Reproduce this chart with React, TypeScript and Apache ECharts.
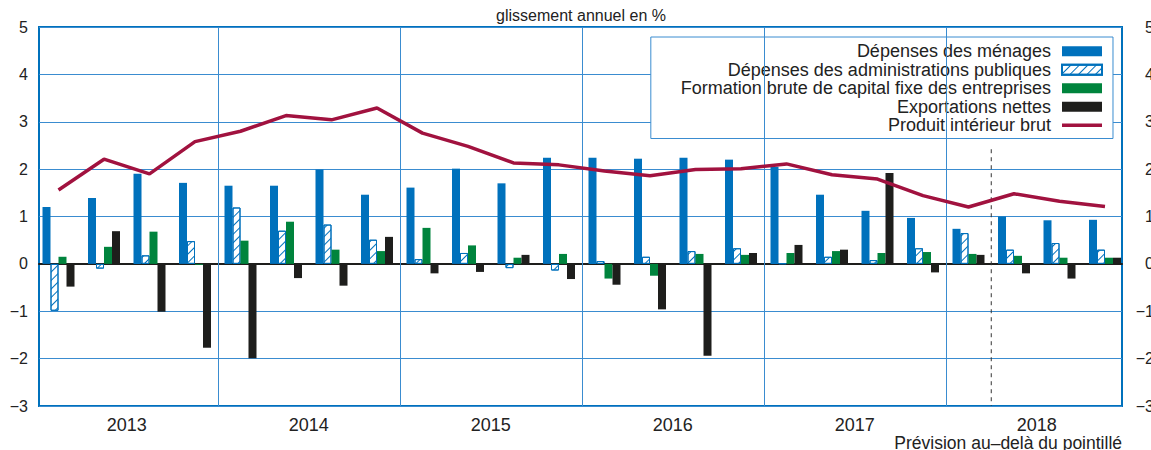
import React, { useEffect, useRef } from 'react';
import * as echarts from 'echarts';

const QUARTERS = [
  'T1 2013', 'T2 2013', 'T3 2013', 'T4 2013',
  'T1 2014', 'T2 2014', 'T3 2014', 'T4 2014',
  'T1 2015', 'T2 2015', 'T3 2015', 'T4 2015',
  'T1 2016', 'T2 2016', 'T3 2016', 'T4 2016',
  'T1 2017', 'T2 2017', 'T3 2017', 'T4 2017',
  'T1 2018', 'T2 2018', 'T3 2018', 'T4 2018',
];
const YEARS = ['2013', '2014', '2015', '2016', '2017', '2018'];

const MENAGES = [1.20, 1.39, 1.90, 1.71, 1.65, 1.65, 1.99, 1.46, 1.61, 2.01, 1.70, 2.24, 2.24, 2.22, 2.24, 2.20, 2.05, 1.46, 1.12, 0.97, 0.74, 1.00, 0.92, 0.93];
const ADMIN = [-0.99, -0.10, 0.18, 0.48, 1.19, 0.70, 0.83, 0.51, 0.10, 0.23, -0.09, -0.14, 0.06, 0.15, 0.27, 0.33, 0.01, 0.15, 0.08, 0.33, 0.65, 0.30, 0.44, 0.30];
const FBCF = [0.15, 0.36, 0.68, -0.02, 0.49, 0.89, 0.30, 0.27, 0.76, 0.39, 0.13, 0.21, -0.31, -0.25, 0.21, 0.19, 0.23, 0.27, 0.23, 0.25, 0.21, 0.17, 0.13, 0.13];
const EXPORTS = [-0.48, 0.69, -1.01, -1.77, -1.99, -0.30, -0.46, 0.57, -0.20, -0.17, 0.19, -0.32, -0.44, -0.96, -1.94, 0.23, 0.40, 0.30, 1.92, -0.18, 0.19, -0.20, -0.31, 0.13];
const PIB = [1.56, 2.21, 1.90, 2.58, 2.80, 3.13, 3.04, 3.29, 2.76, 2.48, 2.13, 2.09, 1.96, 1.86, 1.99, 2.01, 2.11, 1.88, 1.79, 1.44, 1.20, 1.48, 1.32, 1.21];

const SERIES_NAMES = [
  'Dépenses des ménages',
  'Dépenses des administrations publiques',
  'Formation brute de capital fixe des entreprises',
  'Exportations nettes',
  'Produit intérieur brut',
];
const FORECAST_START = 21; // boundary index (quarters) of the dotted line
const FORECAST_TOP = 2.42;
const Y_MIN = -3;
const Y_MAX = 5;

const FONT = "'Liberation Sans', Arial, Helvetica, sans-serif";
const BLUE = '#0071bc';
const GRID_BLUE = '#3a8cd0';
const GREEN = '#00843d';
const BLACK = '#1e1e1c';
const CRIMSON = '#a1123f';
const TEXT = '#222222';

const fmt = (v: number) => (v < 0 ? '\u2212' + Math.abs(v) : String(v));

export default function App() {
  const ref = useRef<HTMLDivElement>(null);
  useEffect(() => {
    const chart = echarts.init(ref.current!, null, { renderer: 'svg' });
    const yearBoundaries = YEARS.slice(1).map((_, i) => ({ xAxis: (i + 1) * 4 }));
    const option: any = {
      animation: false,
      backgroundColor: '#ffffff',
      textStyle: { fontFamily: FONT },
      graphic: [
        {
          type: 'text',
          x: 581,
          y: 15,
          style: {
            text: 'glissement annuel en %',
            fontSize: 16,
            fontFamily: FONT,
            fill: TEXT,
            textAlign: 'center',
            textVerticalAlign: 'middle',
          },
        },
        {
          type: 'text',
          x: 1122,
          y: 443,
          style: {
            text: 'Prévision au–delà du pointillé',
            fontSize: 17.5,
            fontFamily: FONT,
            fill: TEXT,
            textAlign: 'right',
            textVerticalAlign: 'middle',
          },
        },
      ],
      legend: {
        orient: 'vertical',
        right: 38,
        top: 37,
        align: 'right',
        itemWidth: 40,
        itemHeight: 10,
        itemGap: 0,
        padding: [5, 10, 4, 30],
        backgroundColor: '#ffffff',
        borderColor: GRID_BLUE,
        borderWidth: 1,
        selectedMode: false,
        textStyle: { fontSize: 18, fontFamily: FONT, color: TEXT, lineHeight: 18.5, padding: [0, 6, 0, 0] },
        data: [
          { name: SERIES_NAMES[0], icon: 'rect' },
          { name: SERIES_NAMES[1], icon: 'rect' },
          { name: SERIES_NAMES[2], icon: 'rect' },
          { name: SERIES_NAMES[3], icon: 'rect' },
          { name: SERIES_NAMES[4], icon: 'path://M0,0H40V3.5H0Z' },
        ],
      },
      grid: [
        { left: 39, right: 29, top: 27, bottom: 44, outerBoundsMode: 'none', containLabel: false, show: true, borderColor: BLUE, borderWidth: 2, backgroundColor: 'transparent' },
        { left: 35.75, right: 23.25, top: 27, bottom: 44, outerBoundsMode: 'none', containLabel: false },
      ],
      xAxis: [
        {
          gridIndex: 0, type: 'value', min: 0, max: 1,
          axisLine: { show: true, onZero: true, lineStyle: { color: BLACK, width: 2 } },
          axisTick: { show: false }, axisLabel: { show: false }, splitLine: { show: false },
        },
        {
          gridIndex: 1, type: 'category', data: QUARTERS, show: false,
          axisLine: { show: false, onZero: false },
        },
        {
          gridIndex: 1, type: 'category', data: YEARS, position: 'bottom',
          axisLine: { show: false, onZero: false }, axisTick: { show: false }, splitLine: { show: false },
          axisLabel: { fontSize: 18, color: TEXT, margin: 10, fontFamily: FONT },
        },
        {
          gridIndex: 1, type: 'value', min: 0, max: QUARTERS.length, show: false,
          axisLine: { show: false, onZero: false }, splitLine: { show: false },
        },
      ],
      yAxis: [
        {
          gridIndex: 0, type: 'value', min: Y_MIN, max: Y_MAX, interval: 1, position: 'left',
          axisLine: { show: false, onZero: false }, axisTick: { show: false },
          axisLabel: { fontSize: 16, color: TEXT, margin: 11, fontFamily: FONT, formatter: fmt },
          splitLine: { show: true, lineStyle: { color: GRID_BLUE, width: 1 } },
        },
        {
          gridIndex: 0, type: 'value', min: Y_MIN, max: Y_MAX, interval: 1, position: 'right',
          axisLine: { show: false, onZero: false }, axisTick: { show: false },
          axisLabel: { fontSize: 16, color: TEXT, margin: 32, align: 'right', fontFamily: FONT, formatter: fmt },
          splitLine: { show: false },
        },
        {
          gridIndex: 1, type: 'value', min: Y_MIN, max: Y_MAX, show: false,
          axisLine: { show: false, onZero: false }, splitLine: { show: false },
        },
      ],
      series: [
        {
          name: 'forecast',
          type: 'line',
          xAxisIndex: 3,
          yAxisIndex: 2,
          z: 1,
          symbol: 'none',
          silent: true,
          data: [[FORECAST_START, FORECAST_TOP], [FORECAST_START, Y_MIN]],
          lineStyle: { color: '#333333', width: 1, type: [4, 4] },
          markLine: {
            silent: true,
            symbol: 'none',
            label: { show: false },
            lineStyle: { color: GRID_BLUE, width: 1, type: 'solid' },
            data: yearBoundaries,
          },
        },
        {
          name: SERIES_NAMES[0], type: 'bar', xAxisIndex: 1, yAxisIndex: 2,
          barWidth: 8, barGap: '0%', data: MENAGES,
          itemStyle: { color: BLUE },
        },
        {
          name: SERIES_NAMES[1], type: 'bar', xAxisIndex: 1, yAxisIndex: 2,
          barWidth: 8, barGap: '0%', data: ADMIN,
          itemStyle: {
            color: '#ffffff', borderColor: BLUE, borderWidth: 1,
            decal: {
              symbol: 'rect', color: BLUE, backgroundColor: '#ffffff',
              dashArrayX: [1, 0], dashArrayY: [1, 5], rotation: -Math.PI / 4,
            },
          },
        },
        {
          name: SERIES_NAMES[2], type: 'bar', xAxisIndex: 1, yAxisIndex: 2,
          barWidth: 8, barGap: '0%', data: FBCF,
          itemStyle: { color: GREEN },
        },
        {
          name: SERIES_NAMES[3], type: 'bar', xAxisIndex: 1, yAxisIndex: 2,
          barWidth: 8, barGap: '0%', data: EXPORTS,
          itemStyle: { color: BLACK },
        },
        {
          name: SERIES_NAMES[4], type: 'line', xAxisIndex: 1, yAxisIndex: 2,
          z: 5, symbol: 'none', data: PIB,
          lineStyle: { color: CRIMSON, width: 3.5 },
          itemStyle: { color: CRIMSON },
        },
      ],
    };
    chart.setOption(option);
    return () => chart.dispose();
  }, []);
  return <div ref={ref} style={{ position: 'fixed', left: 0, top: 0, width: 1151, height: 450 }} />;
}
